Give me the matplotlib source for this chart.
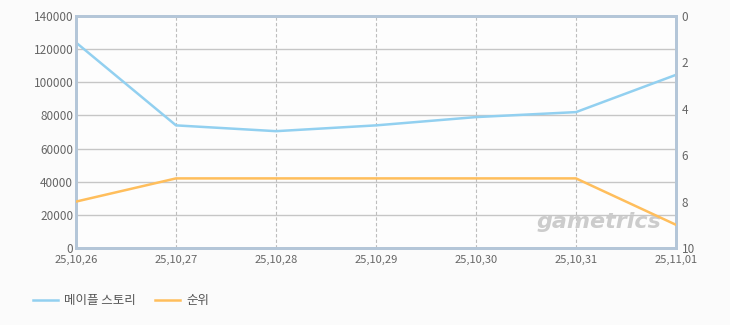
import matplotlib.pyplot as plt

plt.rcParams['font.family'] = ['Noto Sans CJK KR', 'DejaVu Sans']

dates = ['25,10,26', '25,10,27', '25,10,28', '25,10,29', '25,10,30', '25,10,31', '25,11,01']
users = [124000, 74000, 70500, 74000, 79000, 82000, 104500]
rank = [8, 7, 7, 7, 7, 7, 9]

fig = plt.figure(figsize=(7.3, 3.25), dpi=100, facecolor='#fbfbfb')
ax = fig.add_axes([76 / 730, 1 - 248 / 325, 600 / 730, 232 / 325])
ax.set_facecolor('#fdfdfd')

x = list(range(len(dates)))
l1, = ax.plot(x, users, color='#92d0f0', lw=1.8, label='메이플 스토리', zorder=3)
ax.set_xlim(0, len(dates) - 1)
ax.set_ylim(0, 140000)
ax.set_yticks(range(0, 140001, 20000))
ax.set_xticks(x)
ax.set_xticklabels(dates)
ax.grid(axis='y', color='#c6c6c6', lw=1)
for xi in x[1:-1]:
    ax.axvline(xi, color='#bdbdbd', lw=0.8, ls=(0, (3, 2)), zorder=1)

ax2 = ax.twinx()
l2, = ax2.plot(x, rank, color='#ffbe5c', lw=1.8, label='순위', zorder=3)
ax2.set_ylim(10, 0)
ax2.set_yticks(range(0, 11, 2))

for a in (ax, ax2):
    a.tick_params(length=0, labelsize=8.5, colors='#666666')
    for s in a.spines.values():
        s.set_color('#b4c6d8')
        s.set_linewidth(2)
ax.tick_params(axis='y', pad=2)
ax.tick_params(axis='x', pad=5, labelsize=8)
ax2.tick_params(axis='y', pad=4)

# 워터마크
ax.text(0.975, 0.07, 'gametrics', transform=ax.transAxes, ha='right', va='bottom',
        fontsize=16, fontweight='bold', style='italic', color='#cccccc', family='DejaVu Sans', zorder=2)

fig.legend(handles=[l1, l2], loc='lower left', bbox_to_anchor=(0.03, 0.02), ncol=2,
           frameon=False, fontsize=9, labelcolor='#555555', handlelength=2, columnspacing=1.5,
           handletextpad=0.5)

fig.savefig('out.png', dpi=100, facecolor=fig.get_facecolor())
